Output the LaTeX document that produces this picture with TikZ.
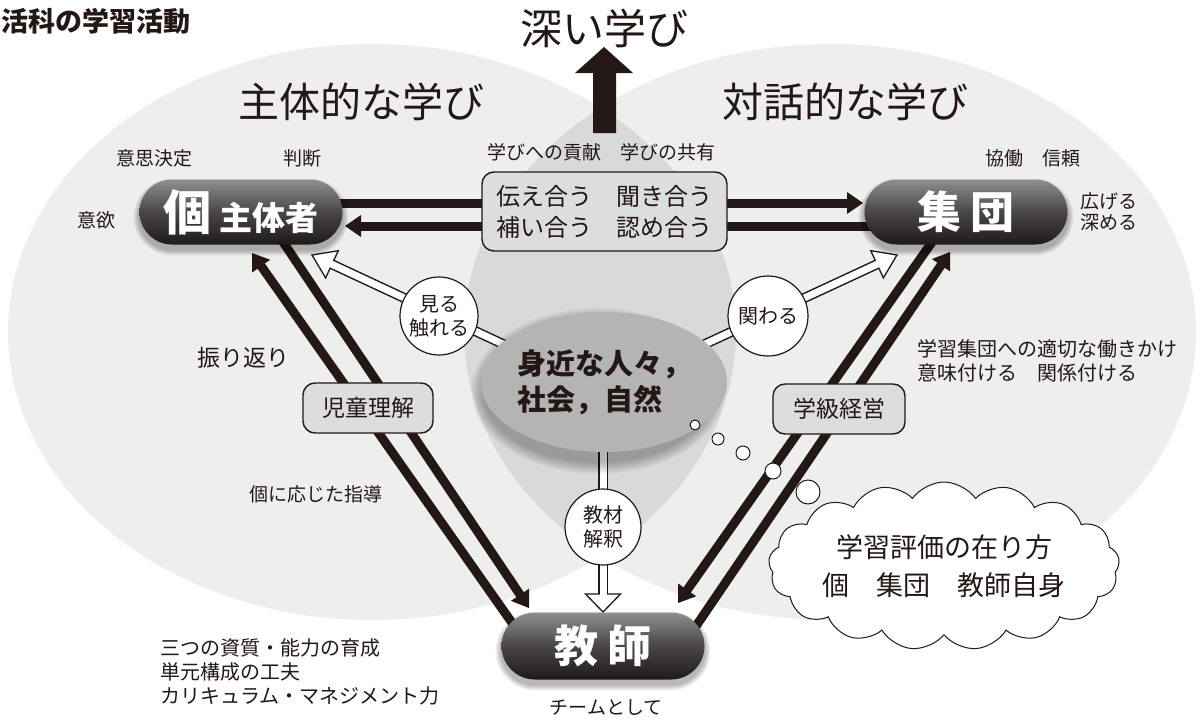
\documentclass[tikz,border=0pt]{standalone}
\usepackage{fontspec}
\setmainfont{Noto Sans CJK JP}
\usetikzlibrary{calc,shapes.symbols,shapes.geometric}
\definecolor{ink}{HTML}{231815}
\definecolor{bgl}{HTML}{EEEEEE}
\definecolor{lens}{HTML}{D8D9D9}
\definecolor{boxg}{HTML}{DCDDDD}
\definecolor{ellg}{HTML}{B4B4B5}
\definecolor{pilltop}{HTML}{8E8E8E}
\definecolor{pillmid}{HTML}{4A4646}
\definecolor{pillbot}{HTML}{1E1A18}
\newcommand\fs[2]{\fontsize{#1}{#2}\selectfont}
% solid arrow head: tip, from, length, half width
\newcommand\solidhead[4]{%
  \coordinate (hb) at ($(#1)!#3!(#2)$);
  \fill[ink] (#1) -- ($(hb)!#4!90:(#1)$) -- ($(hb)!#4!-90:(#1)$) -- cycle;}
% black connector with head: from, tip
\newcommand\blkarrow[2]{%
  \draw[ink, line width=9pt] (#1) -- ($(#2)!14pt!(#1)$);
  \solidhead{#2}{#1}{16pt}{11pt}}
% hollow arrow: from, tip, length, half width
\newcommand\hollowarrow[4]{%
  \coordinate (hb) at ($(#2)!#3!(#1)$);
  \coordinate (hbb) at ($(#2)!#3-3pt!(#1)$);
  \draw[ink, line width=10pt] (#1) -- (hb);
  \filldraw[fill=white, draw=ink, line width=1.3pt, line join=miter] (#2) -- ($(hb)!#4!90:(#2)$) -- ($(hb)!#4!-90:(#2)$) -- cycle;
  \draw[white, line width=7pt] (#1) -- (hbb);}
\newcommand\pillshadow[4]{%
  \foreach \i in {1,...,6}{%
    \pgfmathsetmacro\rr{#4/2+\i}%
    \fill[black,opacity=0.05,rounded corners=\rr pt] ({#1-#3/2-\i},{#2-#4/2-\i+5}) rectangle ({#1+#3/2+\i},{#2+#4/2+\i+5});
  }}
\begin{document}
\begin{tikzpicture}[x=1pt,y=-1pt,
  lbl/.style={text=ink, inner sep=0, font=\fs{19}{21}},
  ttl/.style={text=ink, inner sep=0, font=\fs{41}{45}},
  pill/.style={rectangle, rounded corners=32.5pt, inner sep=0, text=white,
     top color=pilltop, bottom color=pillbot, middle color=pillmid,
     minimum width=203pt, minimum height=65pt, font=\bfseries},
  gbox/.style={rectangle, rounded corners=12pt, draw=ink, fill=boxg, line width=1.4pt, text=ink, inner sep=0},
  rnd/.style={circle, draw=ink, fill=white, line width=1.2pt, inner sep=0, text=ink, align=center, font=\fs{20}{24}},
  bub/.style={circle, draw=ink, fill=white, line width=1pt, inner sep=0}
]
\useasboundingbox (0,0) rectangle (1201,720);
\fill[white] (0,0) rectangle (1201,720);
% background circles
\fill[bgl] (372,332) ellipse [x radius=364, y radius=288];
\fill[bgl] (830,332) ellipse [x radius=366, y radius=288];
\begin{scope}
  \clip (372,332) ellipse [x radius=364, y radius=288];
  \fill[lens] (830,332) ellipse [x radius=366, y radius=288];
\end{scope}
% titles
\node[anchor=east, text=ink, inner sep=0, font=\bfseries\fs{27}{30}] (head) at (191,21) {生活科の学習活動};
\node[ttl, font=\fs{42}{46}] (fukai) at (604,28) {深い学び};
\node[ttl] (shutai) at (361,102) {主体的な学び};
\node[ttl] (taiwa) at (845,102) {対話的な学び};
% big up arrow
\fill[ink] (593,133) -- (593,73) -- (575,73) -- (604,47) -- (633,73) -- (616,73) -- (616,133) -- cycle;
% connector end points
\coordinate (h1s) at (330,203); \coordinate (h1t) at (863,203);
\coordinate (h2s) at (880,226); \coordinate (h2t) at (345,226);
\coordinate (l1s) at (522,637); \coordinate (l1t) at (252,253);
\coordinate (l2s) at (277,233); \coordinate (l2t) at (529,608);
\coordinate (r1s) at (937,235); \coordinate (r1t) at (678,603);
\coordinate (r2s) at (692,632); \coordinate (r2t) at (950,252);
% black double arrows
\blkarrow{h1s}{h1t}
\blkarrow{h2s}{h2t}
\blkarrow{l1s}{l1t}
\blkarrow{l2s}{l2t}
\blkarrow{r1s}{r1t}
\blkarrow{r2s}{r2t}
% hollow arrows
\coordinate (n1) at (505,345); \coordinate (t1) at (312,255);
\coordinate (n2) at (703,345); \coordinate (t2) at (897,255);
\coordinate (n3) at (603,440); \coordinate (t3) at (603,612);
\hollowarrow{n1}{t1}{22pt}{15pt}
\hollowarrow{n2}{t2}{22pt}{15pt}
\hollowarrow{n3}{t3}{18pt}{17.5pt}
% central ellipse with soft shadow
\foreach \i in {1,...,8}{\fill[black,opacity=0.04] (598,391) ellipse [x radius={114+\i*1.6}, y radius={70+\i*1.6}];}
\node[ellipse, fill=ellg, minimum width=228pt, minimum height=140pt, inner sep=0, text=ink, align=left, font=\bfseries\fs{29}{36}] (nature) at (604,382) {身近な人々，\\社会，自然};
% circles
\node[rnd, minimum size=78pt] (miru) at (439,316) {見る\\触れる};
\node[rnd, minimum size=80pt] (kakawaru) at (768,316) {関わる};
\node[rnd, minimum size=76pt] (kyozai) at (603,527) {教材\\解釈};
% boxes
\node[gbox, minimum width=245pt, minimum height=79pt, align=center, font=\fs{24}{31}] (tsutae) at (604.5,211.5) {伝え合う　聞き合う\\補い合う　認め合う};
\node[gbox, minimum width=130pt, minimum height=50pt, font=\fs{23}{27}] (jido) at (368,408) {児童理解};
\node[gbox, minimum width=132pt, minimum height=50pt, font=\fs{23}{27}] (gakkyu) at (839,409) {学級経営};
% pills
\pillshadow{241}{212}{203}{65}
\pillshadow{966}{212}{203}{65}
\pillshadow{603}{646}{203}{67}
\node[pill] (ko) at (241,212) {{\fs{48}{48}個}\hspace{8pt}{\fs{33}{33}主体者}};
\node[pill] (shudan) at (966,212) {\fs{44}{44}集\hspace{9pt}団};
\node[pill, minimum height=67pt, rounded corners=33.5pt] (kyoshi) at (603,646) {\fs{44}{44}教\hspace{9pt}師};
% thought bubbles and cloud
\node[cloud, cloud puffs=17, cloud puff arc=110, aspect=2.5, draw=ink, fill=white, line width=1pt, minimum width=290pt, minimum height=118pt, inner sep=0, align=center, text=ink, font=\fs{27}{38}] (cloud) at (944,566) {学習評価の在り方\\個　集団　教師自身};
\node[bub, minimum size=10pt] (b1) at (695,425) {};
\node[bub, minimum size=12pt] (b2) at (718,439) {};
\node[bub, minimum size=14pt] (b3) at (743,453) {};
\node[bub, minimum size=16pt] (b4) at (773,471) {};
\node[bub, minimum size=24pt] (b5) at (808,492) {};
% labels
\node[lbl] (manabi) at (601,152) {学びへの貢献　学びの共有};
\node[lbl] (ishi) at (154,158) {意思決定};
\node[lbl] (handan) at (302,158) {判断};
\node[lbl] (iyoku) at (96,220) {意欲};
\node[lbl] (kyodo) at (1033,158) {協働　信頼};
\node[lbl, anchor=west, align=left] (hirogeru) at (1080,212) {広げる\\深める};
\node[lbl, font=\fs{23}{27}] (furikaeri) at (243,358) {振り返り};
\node[lbl] (koni) at (316,494) {個に応じた指導};
\node[lbl, anchor=west, align=left, font=\fs{20}{24}] (gakushu) at (917,361) {学習集団への適切な働きかけ\\意味付ける　関係付ける};
\node[lbl, anchor=west, align=left, font=\fs{20}{24}] (sanshitsu) at (160,672) {三つの資質・能力の育成\\単元構成の工夫\\カリキュラム・マネジメント力};
\node[lbl] (team) at (606,708) {チームとして};
\end{tikzpicture}
\end{document}
